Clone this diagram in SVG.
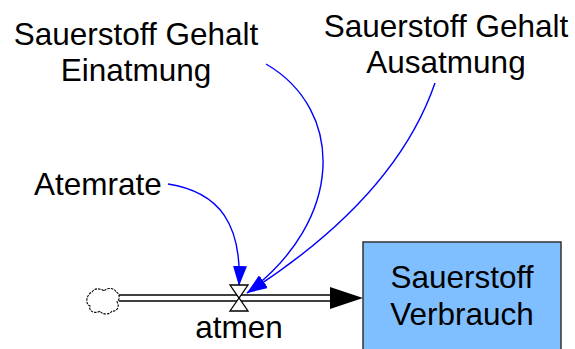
<svg xmlns="http://www.w3.org/2000/svg" width="575" height="349" viewBox="0 0 575 349">
  <style>
    .lbl { font-family: "Liberation Sans", Arial, sans-serif; font-size: 31.5px; fill: #000; text-anchor: middle; }
    .link { fill: none; stroke: #0000ff; stroke-width: 1.4; }
    .pipe { fill: none; stroke: #000; stroke-width: 1.5; }
  </style>
  <defs>
    <marker id="arrow" viewBox="0 0 20 14" refX="20" refY="7" markerWidth="20" markerHeight="14" markerUnits="userSpaceOnUse" orient="auto">
      <path d="M0,0 L20,7 L0,14 Z" fill="#0000ff"/>
    </marker>
  </defs>

  <!-- flow pipe from cloud into stock -->
  <g id="flow-pipe">
    <line class="pipe" x1="119" y1="295" x2="332" y2="295"/>
    <line class="pipe" x1="119" y1="301" x2="332" y2="301"/>
    <path d="M330,287 L363,298 L330,309 Z" fill="#000"/>
  </g>

  <!-- source cloud -->
  <g id="cloud">
    <path d="M92,292 C95,287 102,289 104,291 C107,287 115,288 116,292 C120,293 120,300 117,302 C120,306 117,312 112,311 C110,315 102,315 100,311 C96,314 88,312 90,306 C85,304 86,295 92,292 Z" fill="#fff" stroke="#000" stroke-width="1.1" stroke-dasharray="2.5,1"/>
  </g>

  <!-- stock -->
  <g id="sauerstoff-verbrauch">
    <rect x="363" y="242" width="198" height="112" fill="#80bfff" stroke="#333" stroke-width="1.5"/>
    <text class="lbl" x="462" y="288">Sauerstoff</text>
    <text class="lbl" x="462" y="325">Verbrauch</text>
  </g>

  <!-- influence links -->
  <g id="connectors">
    <path class="link" d="M168,184 C220,192 242,225 239,286" marker-end="url(#arrow)"/>
    <path class="link" d="M266,64 C345,110 345,220 247,293" marker-end="url(#arrow)"/>
    <path class="link" d="M435,83 C405,170 330,240 247,293" marker-end="url(#arrow)"/>
  </g>

  <!-- valve of the flow -->
  <g id="atmen">
    <path d="M230,285 L248,285 L239,298 Z M239,298 L230,311 L248,311 Z" fill="#fff" stroke="#000" stroke-width="1.3" stroke-linejoin="miter"/>
    <text class="lbl" x="239" y="338">atmen</text>
  </g>

  <g id="atemrate">
    <text class="lbl" x="98" y="195">Atemrate</text>
  </g>

  <g id="gehalt-einatmung">
    <text class="lbl" x="136" y="45">Sauerstoff Gehalt</text>
    <text class="lbl" x="136" y="81">Einatmung</text>
  </g>

  <g id="gehalt-ausatmung">
    <text class="lbl" x="446" y="37">Sauerstoff Gehalt</text>
    <text class="lbl" x="446" y="73">Ausatmung</text>
  </g>
</svg>
